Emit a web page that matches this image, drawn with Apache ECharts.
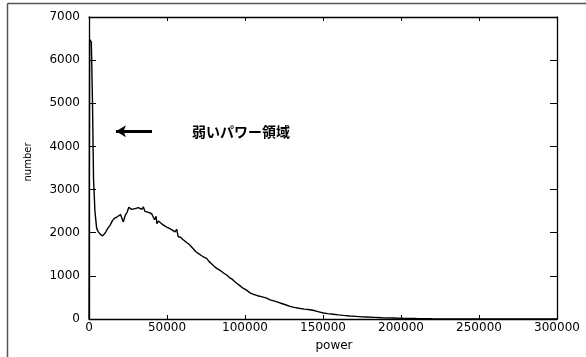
<!DOCTYPE html>
<html>
<head>
<meta charset="utf-8">
<script src="https://cdn.jsdelivr.net/npm/echarts@6/dist/echarts.min.js"></script>
<style>
  html, body { margin: 0; padding: 0; background: #fff; }
  #chart { width: 586px; height: 357px; }
</style>
</head>
<body>
<div id="chart"></div>
<script>
// histogram of power values
const powerValues = [
  0, 400, 1500, 2200, 2900, 3800, 4900, 6000, 7300, 8700,
  10500, 12000, 13500, 15000, 16500, 17800, 19000, 20200, 21000, 22000,
  23200, 24500, 25500, 26300, 27300, 28400, 29500, 30600, 31700, 32700,
  33800, 34800, 35900, 37000, 38200, 39200, 40200, 41200, 42000, 43000,
  43500, 44500, 45500, 46800, 48000, 49800, 51500, 53500, 55100, 56200,
  57200, 58500, 60000, 62600, 64500, 66500, 68500, 70000, 71150, 72500,
  74000, 75400, 77000, 78500, 80000, 81850, 83500, 85000, 86500, 88250,
  90000, 91500, 93000, 94700, 96500, 98500, 100500, 102000, 103500, 105500,
  108000, 110500, 113900, 116000, 118500, 121000, 123500, 126000, 128800, 131500,
  134500, 138000, 141700, 145000, 148000, 150200, 153000, 156500, 160000, 163000,
  167000, 171000, 175000, 178000, 183000, 188000, 195000, 202000, 210000, 220000,
  230000, 245000, 260000, 280000, 300000
];
const counts = [
  0, 6480, 6420, 5100, 3250, 2500, 2100, 2020, 1960, 1927,
  2000, 2100, 2170, 2280, 2340, 2364, 2400, 2420, 2390, 2250,
  2400, 2480, 2590, 2560, 2540, 2517, 2560, 2530, 2580, 2560,
  2540, 2600, 2494, 2500, 2470, 2480, 2440, 2420, 2300, 2380,
  2210, 2270, 2250, 2200, 2190, 2130, 2100, 2060, 2020, 2080,
  1904, 1900, 1850, 1773, 1720, 1640, 1560, 1520, 1481, 1460,
  1430, 1405, 1330, 1280, 1230, 1174, 1140, 1100, 1060, 1020,
  960, 930, 880, 829, 780, 720, 680, 640, 600, 570,
  540, 520, 484, 445, 420, 390, 360, 330, 292, 270,
  250, 230, 214, 190, 160, 138, 125, 110, 95, 84,
  70, 60, 50, 46, 38, 30, 23, 15, 10, 6,
  4, 2, 1, 0, 0
];

// annotation: arrow pointing at the low-power spike
const arrowFrom = [40400, 4350];
const arrowTo = [17300, 4350];
const noteAt = [97400, 4350];
const noteText = "弱いパワー領域";

const chart = echarts.init(document.getElementById("chart"), null, { renderer: "canvas" });

const tickFont = { fontFamily: "DejaVu Sans", fontSize: 12, color: "#000", formatter: (v) => String(v) };
const frameLine = { show: true, onZero: false, lineStyle: { color: "#000", width: 1.3 } };

const option = {
  animation: false,
  backgroundColor: "#fff",
  grid: { left: 89, top: 17, right: 29, bottom: 36, containLabel: false },
  graphic: [
    // outer frame, only top and left edges are visible in the picture
    {
      type: "line",
      shape: { x1: 7.5, y1: 3.5, x2: 586, y2: 3.5 },
      style: { stroke: "#555", lineWidth: 1.5 },
      silent: true
    },
    {
      type: "line",
      shape: { x1: 7.5, y1: 3.5, x2: 7.5, y2: 357 },
      style: { stroke: "#555", lineWidth: 1.5 },
      silent: true
    }
  ],
  xAxis: [
    {
      type: "value",
      min: 0, max: 300000, interval: 50000,
      name: "power",
      nameLocation: "middle",
      nameGap: 21,
      nameTextStyle: { fontFamily: "DejaVu Sans", fontSize: 12, color: "#000", padding: [0, 0, 0, 22] },
      axisLine: frameLine,
      axisTick: { show: true, inside: true, length: 4, lineStyle: { color: "#000" } },
      axisLabel: Object.assign({ margin: 3 }, tickFont),
      splitLine: { show: false }
    },
    {
      type: "value",
      position: "top",
      min: 0, max: 300000, interval: 50000,
      axisLine: frameLine,
      axisTick: { show: true, inside: true, length: 4, lineStyle: { color: "#000" } },
      axisLabel: { show: false },
      splitLine: { show: false }
    }
  ],
  yAxis: [
    {
      type: "value",
      min: 0, max: 7000, interval: 1000,
      name: "number",
      nameLocation: "middle",
      nameGap: 56,
      nameTextStyle: { fontFamily: "DejaVu Sans", fontSize: 10, color: "#000", padding: [0, 0, 0, 12] },
      axisLine: frameLine,
      axisTick: { show: true, inside: true, length: 7, lineStyle: { color: "#000" } },
      axisLabel: Object.assign({ margin: 9 }, tickFont),
      splitLine: { show: false }
    },
    {
      type: "value",
      position: "right",
      min: 0, max: 7000, interval: 1000,
      axisLine: frameLine,
      axisTick: { show: true, inside: true, length: 7, lineStyle: { color: "#000" } },
      axisLabel: { show: false },
      splitLine: { show: false }
    }
  ],
  series: [
    {
      type: "line",
      data: powerValues.map((p, i) => [p, counts[i]]),
      showSymbol: false,
      lineStyle: { color: "#000", width: 1.4 },
      markLine: {
        silent: true,
        symbol: ["none", "arrow"],
        symbolSize: [9, 10],
        lineStyle: { color: "#000", width: 3, type: "solid" },
        label: { show: false },
        data: [[{ coord: arrowFrom }, { coord: arrowTo }]]
      },
      markPoint: {
        silent: true,
        symbol: "circle",
        symbolSize: 0,
        label: {
          show: true,
          position: "inside",
          formatter: noteText,
          fontFamily: "Noto Sans CJK JP",
          fontSize: 14,
          fontWeight: "bold",
          color: "#000"
        },
        data: [{ coord: noteAt }]
      }
    }
  ]
};

chart.setOption(option);
</script>
</body>
</html>
